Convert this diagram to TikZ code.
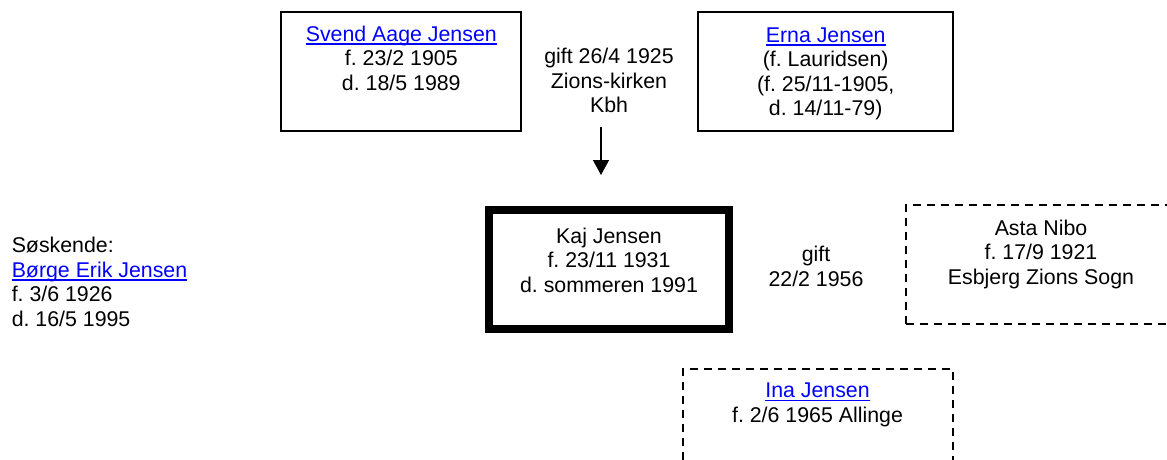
\documentclass[tikz,border=0pt]{standalone}
\usepackage{fontspec}
\setmainfont{Liberation Sans}
\usepackage{tikz}
\usetikzlibrary{arrows.meta}
\frenchspacing
\definecolor{linkblaa}{RGB}{0,0,255}
\newcommand{\lnk}[1]{\textcolor{linkblaa}{\setbox0\hbox{#1}\rlap{\rule[-2.6pt]{\wd0}{1.1pt}}\box0}}
\newcommand{\boks}[4]{\parbox[c][#2][t]{#1}{\centering\rule{0pt}{#3}#4}}

\begin{document}
\begin{tikzpicture}[x=0.75pt,y=-0.75pt,font=\fontsize{16pt}{18.4pt}\selectfont]
        \tikzset{person/.style = {draw, line width=1.4pt, inner sep=0pt}}
        \tikzset{personc/.style = {draw, line width=6pt, inner sep=0pt}}
        \tikzset{persond/.style = {draw, line width=1.5pt, dash pattern=on 6pt off 4.5pt, inner sep=0pt}}
        \tikzset{tekst/.style = {align=center, anchor=base, inner sep=0pt}}
        \tikzset{edged/.style = {-{Triangle[length=11.25pt,width=12pt]}, line width=1pt}}
        \useasboundingbox (0,0) rectangle (1167,460);
        % personer
        \node[person] (svend) at (401.3,71.5) {\boks{180pt}{89.25pt}{22.1pt}{\lnk{Svend Aage Jensen}\\ f. 23/2 1905\\ d. 18/5 1989}};
        \node[person] (erna) at (825.7,71.5) {\boks{191.5pt}{89.25pt}{22.7pt}{\lnk{Erna Jensen}\\ (f. Lauridsen)\\ (f. 25/11-1905,\\ d. 14/11-79)}};
        \node[personc] (kaj) at (609,269.5) {\boks{180pt}{89.25pt}{24.75pt}{Kaj Jensen\\ f. 23/11 1931\\ d. sommeren 1991}};
        \node[persond] (asta) at (1041,264.5) {\boks{202.5pt}{89.25pt}{22.5pt}{Asta Nibo\\ f. 17/9 1921\\ Esbjerg Zions Sogn}};
        \node[persond] (ina) at (817.5,428.5) {\boks{202.5pt}{89.25pt}{21.5pt}{\lnk{Ina Jensen}\\ f. 2/6 1965 Allinge}};

        % tekster (base = sidste linje)
        \node[tekst] (gift1) at (609,113) {gift 26/4 1925\\ Zions-kirken\\ Kbh};
        \node[tekst] (gift2) at (816,286) {gift\\ 22/2 1956};
        \node[tekst, align=left, anchor=base west] (soeskende) at (11.5,326.5) {Søskende:\\ \lnk{Børge Erik Jensen}\\ f. 3/6 1926\\ d. 16/5 1995};

        % pil
        \coordinate (pil1) at (601,127);
        \coordinate (pil2) at (601,175);
        \draw[edged] (pil1) to (pil2);
\end{tikzpicture}
\end{document}
